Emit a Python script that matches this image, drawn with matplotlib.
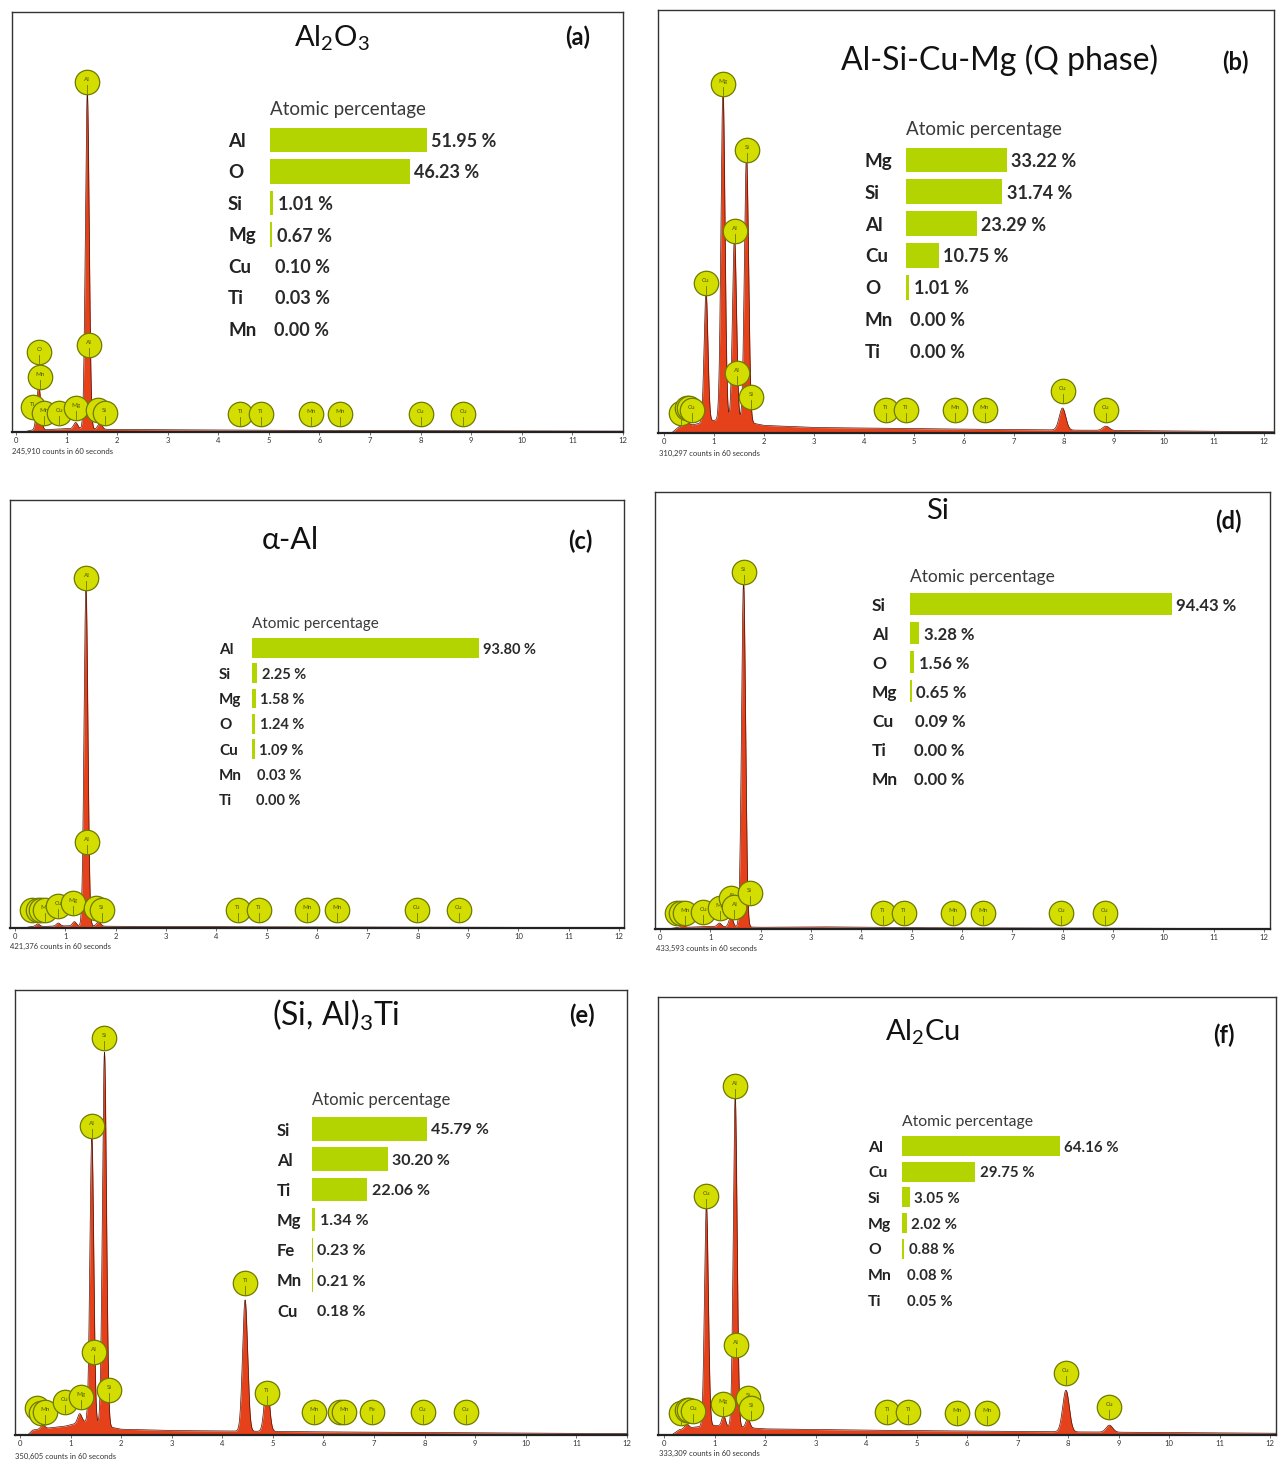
import numpy as np
import matplotlib.pyplot as plt

plt.rcParams['font.family'] = ['Lato', 'DejaVu Sans']
plt.rcParams['mathtext.fontset'] = 'custom'
plt.rcParams['mathtext.rm'] = 'Lato'

W, H = 1278, 1463

# ---------------- (a) Al2O3 ----------------
a_elem = ["Al", "O", "Si", "Mg", "Cu", "Ti", "Mn"]
a_pct = [51.95, 46.23, 1.01, 0.67, 0.10, 0.03, 0.00]
a_peak_e = [0.45, 1.18, 1.41, 1.66]
a_peak_h = [10.5, 1.5, 80.0, 1.5]
a_peak_w = [0.04, 0.04, 0.038, 0.04]
a_bg_e = [0.15, 0.3, 1.0, 2.0, 5.0, 12.0]
a_bg_h = [0.0, 0.4, 0.8, 0.6, 0.4, 0.2]
a_mk_el = ["Al", "Al", "O", "Mn", "Ti", "Mn", "Cu", "Mg", "Al", "Si", "Ti", "Ti", "Mn", "Mn", "Cu", "Cu"]
a_mk_e = [1.41, 1.45, 0.45, 0.47, 0.33, 0.55, 0.86, 1.18, 1.63, 1.75, 4.43, 4.84, 5.84, 6.41, 8.0, 8.84]
a_mk_h = [83.3, 20.7, 19.0, 13.1, 6.0, 4.5, 4.5, 5.7, 5.2, 4.5, 4.3, 4.3, 4.3, 4.3, 4.3, 4.3]

# ---------------- (b) Q phase ----------------
b_elem = ["Mg", "Si", "Al", "Cu", "O", "Mn", "Ti"]
b_pct = [33.22, 31.74, 23.29, 10.75, 1.01, 0.00, 0.00]
b_peak_e = [0.45, 0.84, 1.18, 1.41, 1.65, 7.97, 8.84]
b_peak_h = [1.5, 31.0, 78.5, 43.5, 63.0, 5.2, 1.0]
b_peak_w = [0.04, 0.038, 0.04, 0.04, 0.042, 0.065, 0.065]
b_bg_e = [0.15, 0.3, 0.6, 1.0, 1.5, 2.0, 3.0, 6.0, 12.0]
b_bg_h = [0.0, 1.5, 2.0, 3.0, 3.0, 1.8, 1.3, 0.9, 0.3]
b_mk_el = ["Ti", "O", "Mn", "Cu", "Cu", "Mg", "Al", "Al", "Si", "Si", "Ti", "Ti", "Mn", "Mn", "Cu", "Cu"]
b_mk_e = [0.33, 0.45, 0.5, 0.55, 0.84, 1.18, 1.41, 1.45, 1.66, 1.74, 4.43, 4.84, 5.82, 6.41, 7.97, 8.84]
b_mk_h = [4.7, 6.0, 6.0, 5.5, 35.5, 82.5, 47.8, 14.2, 66.9, 8.5, 5.4, 5.4, 5.4, 5.4, 9.9, 5.4]

# ---------------- (c) alpha-Al ----------------
c_elem = ["Al", "Si", "Mg", "O", "Cu", "Mn", "Ti"]
c_pct = [93.80, 2.25, 1.58, 1.24, 1.09, 0.03, 0.00]
c_peak_e = [0.45, 0.86, 1.18, 1.41, 1.66]
c_peak_h = [0.6, 0.7, 1.0, 79.3, 1.0]
c_peak_w = [0.04, 0.038, 0.038, 0.038, 0.04]
c_bg_e = [0.15, 0.3, 1.0, 2.0, 4.0, 12.0]
c_bg_h = [0.0, 0.3, 0.5, 0.4, 0.3, 0.1]
c_mk_el = ["Ti", "O", "Mn", "Mn", "Cu", "Mg", "Al", "Al", "Al", "Si", "Ti", "Ti", "Mn", "Mn", "Cu", "Cu"]
c_mk_e = [0.33, 0.45, 0.52, 0.6, 0.86, 1.15, 1.42, 1.43, 1.6, 1.72, 4.43, 4.84, 5.81, 6.4, 7.98, 8.82]
c_mk_h = [4.2, 4.2, 4.2, 4.2, 5.2, 5.9, 81.7, 20.0, 4.7, 4.2, 4.2, 4.2, 4.2, 4.2, 4.2, 4.2]

# ---------------- (d) Si ----------------
d_elem = ["Si", "Al", "O", "Mg", "Cu", "Ti", "Mn"]
d_pct = [94.43, 3.28, 1.56, 0.65, 0.09, 0.00, 0.00]
d_peak_e = [0.45, 1.18, 1.41, 1.66]
d_peak_h = [0.5, 0.8, 2.5, 79.0]
d_peak_w = [0.04, 0.038, 0.038, 0.04]
d_bg_e = [0.15, 0.3, 1.0, 2.0, 3.2, 5.0, 12.0]
d_bg_h = [0.0, 0.3, 0.6, 0.4, 0.5, 0.3, 0.1]
d_mk_el = ["Ti", "O", "Mn", "Cu", "Mg", "Al", "Al", "Si", "Si", "Ti", "Ti", "Mn", "Mn", "Cu", "Cu"]
d_mk_e = [0.33, 0.42, 0.5, 0.86, 1.2, 1.42, 1.48, 1.66, 1.78, 4.43, 4.84, 5.82, 6.41, 7.97, 8.84]
d_mk_h = [3.7, 3.7, 3.7, 4.0, 4.8, 7.0, 5.0, 81.6, 8.3, 3.7, 3.7, 3.7, 3.7, 3.7, 3.7]

# ---------------- (e) (Si,Al)3Ti ----------------
e_elem = ["Si", "Al", "Ti", "Mg", "Fe", "Mn", "Cu"]
e_pct = [45.79, 30.20, 22.06, 1.34, 0.23, 0.21, 0.18]
e_peak_e = [0.45, 1.18, 1.42, 1.67, 4.45, 4.88]
e_peak_h = [0.8, 2.0, 64.5, 84.0, 29.5, 11.0]
e_peak_w = [0.04, 0.04, 0.038, 0.04, 0.05, 0.05]
e_bg_e = [0.15, 0.25, 0.5, 0.9, 1.25, 2.0, 3.0, 6.0, 12.0]
e_bg_h = [0.0, 1.1, 1.5, 2.0, 3.0, 1.3, 1.0, 0.7, 0.3]
e_mk_el = ["Ti", "O", "Mn", "Cu", "Mg", "Al", "Al", "Si", "Si", "Ti", "Ti", "Mn", "Mn", "Mn", "Fe", "Cu", "Cu"]
e_mk_e = [0.33, 0.42, 0.5, 0.88, 1.2, 1.42, 1.47, 1.67, 1.76, 4.45, 4.88, 5.82, 6.33, 6.41, 6.95, 7.96, 8.81]
e_mk_h = [6.0, 5.0, 5.2, 7.4, 8.5, 69.4, 18.7, 89.2, 10.1, 34.2, 9.4, 5.2, 5.2, 5.2, 5.2, 5.2, 5.2]

# ---------------- (f) Al2Cu ----------------
f_elem = ["Al", "Cu", "Si", "Mg", "O", "Mn", "Ti"]
f_pct = [64.16, 29.75, 3.05, 2.02, 0.88, 0.08, 0.05]
f_peak_e = [0.45, 0.84, 1.18, 1.41, 1.66, 7.96, 8.82]
f_peak_h = [1.0, 50.5, 2.5, 75.5, 2.0, 9.5, 1.6]
f_peak_w = [0.04, 0.038, 0.035, 0.038, 0.04, 0.065, 0.065]
f_bg_e = [0.15, 0.3, 0.6, 1.0, 2.0, 4.0, 7.0, 12.0]
f_bg_h = [0.0, 1.2, 1.8, 2.2, 1.4, 1.1, 0.8, 0.4]
f_mk_el = ["Ti", "O", "Mn", "Cu", "Cu", "Mg", "Al", "Al", "Si", "Si", "Ti", "Ti", "Mn", "Mn", "Cu", "Cu"]
f_mk_e = [0.33, 0.45, 0.5, 0.58, 0.84, 1.17, 1.41, 1.43, 1.67, 1.72, 4.42, 4.84, 5.8, 6.4, 7.96, 8.82]
f_mk_h = [5.0, 5.8, 5.8, 5.5, 54.6, 7.1, 79.7, 20.5, 8.4, 6.2, 5.2, 5.2, 5.0, 5.0, 14.2, 6.4]

BAR_C = '#b3d400'
SPEC_C = '#e5421b'
MK_FACE = '#d3de00'
MK_EDGE = '#6f7a00'

fig = plt.figure(figsize=(W / 100, H / 100), dpi=100)
E = np.linspace(0, 12.6, 4000)


def draw_panel(frame, ticks, elem, pct, pk_e, pk_h, pk_w, bg_e, bg_h,
               mk_el, mk_e, mk_h, title, title_pos, title_fs, tag, tag_pos,
               counts, counts_pos, table):
    l, t, r, b = frame
    p0, p12 = ticks
    k = (p12 - p0) / 12.0
    ax = fig.add_axes([l / W, 1 - b / H, (r - l) / W, (b - t) / H])
    ax.set_xlim((l - p0) / k, (r - p0) / k)
    ax.set_ylim(0, 100)

    # spectrum
    y = np.interp(E, bg_e, bg_h, left=0)
    for e0, h0, w0 in zip(pk_e, pk_h, pk_w):
        y = y + h0 * np.exp(-0.5 * ((E - e0) / w0) ** 2)
    ax.fill_between(E, 0, y, color=SPEC_C, lw=0, zorder=1)
    ax.plot(E, y, color='#4a1208', lw=0.5, zorder=2)

    # element markers, each one drawn over the previous ones
    dpx = 100.0 / (b - t)
    for j, (el, e0, h0) in enumerate(zip(mk_el, mk_e, mk_h)):
        z = 3 + j * 0.1
        ax.scatter([e0], [h0], s=310, color=MK_FACE, edgecolor=MK_EDGE,
                   linewidth=0.9, zorder=z, clip_on=False)
        ax.plot([e0, e0], [h0 - 11 * dpx, h0 - 3 * dpx], color=MK_EDGE,
                lw=0.6, zorder=z + 0.01)
        ax.text(e0, h0 + 2.5 * dpx, el, fontsize=4.5, color='#4d5500',
                ha='center', va='center', zorder=z + 0.02)

    ax.set_xticks(range(13))
    ax.set_yticks([])
    ax.tick_params(axis='x', direction='out', length=2, width=0.5,
                   labelsize=5.5, pad=1.5, colors='#333333')
    for s in ['left', 'right', 'top']:
        ax.spines[s].set_color('#333333')
        ax.spines[s].set_linewidth(1.0)
    ax.spines['bottom'].set_color('#222222')
    ax.spines['bottom'].set_linewidth(1.6)

    fig.text(title_pos[0] / W, 1 - title_pos[1] / H, title, fontsize=title_fs,
             ha='center', va='center', color='#111111')
    fig.text(tag_pos[0] / W, 1 - tag_pos[1] / H, tag, fontsize=17,
             fontweight='bold', ha='center', va='center', color='#111111')
    fig.text(counts_pos[0] / W, 1 - counts_pos[1] / H, counts, fontsize=5.5,
             ha='left', va='center', color='#333333')

    # atomic percentage table
    x0, y0, dy, scale, fs, lab_x = table
    n = len(elem)
    wpx = 330
    tx = fig.add_axes([x0 / W, 1 - (y0 + (n - 0.5) * dy) / H, wpx / W, n * dy / H])
    tx.set_xlim(0, wpx / scale)
    tx.set_ylim(n - 0.5, -0.5)
    tx.axis('off')
    tx.barh(range(n), pct, height=0.78, color=BAR_C, lw=0)
    tx.text(0, -1, 'Atomic percentage', fontsize=fs, ha='left',
            va='center_baseline', color='#3a3a3a', clip_on=False)
    for i, (el, v) in enumerate(zip(elem, pct)):
        tx.text((lab_x - x0) / scale, i, el, fontsize=fs, fontweight='bold',
                ha='left', va='center_baseline', color='#222222', clip_on=False)
        tx.text(v + 4.5 / scale, i, f'{v:.2f} %', fontsize=fs * 0.96,
                fontweight='bold', ha='left', va='center_baseline',
                color='#2a2a2a', clip_on=False)


draw_panel((12, 12, 623, 432), (16, 625), a_elem, a_pct, a_peak_e, a_peak_h, a_peak_w,
           a_bg_e, a_bg_h, a_mk_el, a_mk_e, a_mk_h,
           r'Al$_2$O$_3$', (332, 38), 21, '(a)', (578, 37),
           '245,910 counts in 60 seconds', (12, 451), (270, 140, 31.5, 3.02, 13.5, 228))

draw_panel((658, 10, 1274, 433), (664, 1264), b_elem, b_pct, b_peak_e, b_peak_h, b_peak_w,
           b_bg_e, b_bg_h, b_mk_el, b_mk_e, b_mk_h,
           'Al-Si-Cu-Mg (Q phase)', (1000, 60), 23, '(b)', (1235, 62),
           '310,297 counts in 60 seconds', (659, 453), (906, 160, 31.8, 3.04, 13.5, 865))

draw_panel((10, 500, 624, 928), (15, 619), c_elem, c_pct, c_peak_e, c_peak_h, c_peak_w,
           c_bg_e, c_bg_h, c_mk_el, c_mk_e, c_mk_h,
           'α-Al', (290, 540), 22, '(c)', (580, 541),
           '421,376 counts in 60 seconds', (10, 946), (252, 648, 25.3, 2.42, 11, 219))

draw_panel((655, 492, 1270, 929), (660, 1264), d_elem, d_pct, d_peak_e, d_peak_h, d_peak_w,
           d_bg_e, d_bg_h, d_mk_el, d_mk_e, d_mk_h,
           'Si', (937, 511), 21, '(d)', (1228, 521),
           '433,593 counts in 60 seconds', (656, 948), (910, 604, 29, 2.77, 12.5, 872))

draw_panel((15, 990, 627, 1435), (20, 628), e_elem, e_pct, e_peak_e, e_peak_h, e_peak_w,
           e_bg_e, e_bg_h, e_mk_el, e_mk_e, e_mk_h,
           r'(Si, Al)$_3$Ti', (336, 1015), 23, '(e)', (582, 1015),
           '350,605 counts in 60 seconds', (15, 1456), (312, 1129, 30.2, 2.51, 12, 277))

draw_panel((658, 997, 1276, 1435), (664, 1270), f_elem, f_pct, f_peak_e, f_peak_h, f_peak_w,
           f_bg_e, f_bg_h, f_mk_el, f_mk_e, f_mk_h,
           r'Al$_2$Cu', (923, 1032), 21, '(f)', (1224, 1035),
           '333,309 counts in 60 seconds', (659, 1453), (902, 1146, 25.7, 2.46, 11.3, 868))

fig.savefig('out.png', dpi=100)
